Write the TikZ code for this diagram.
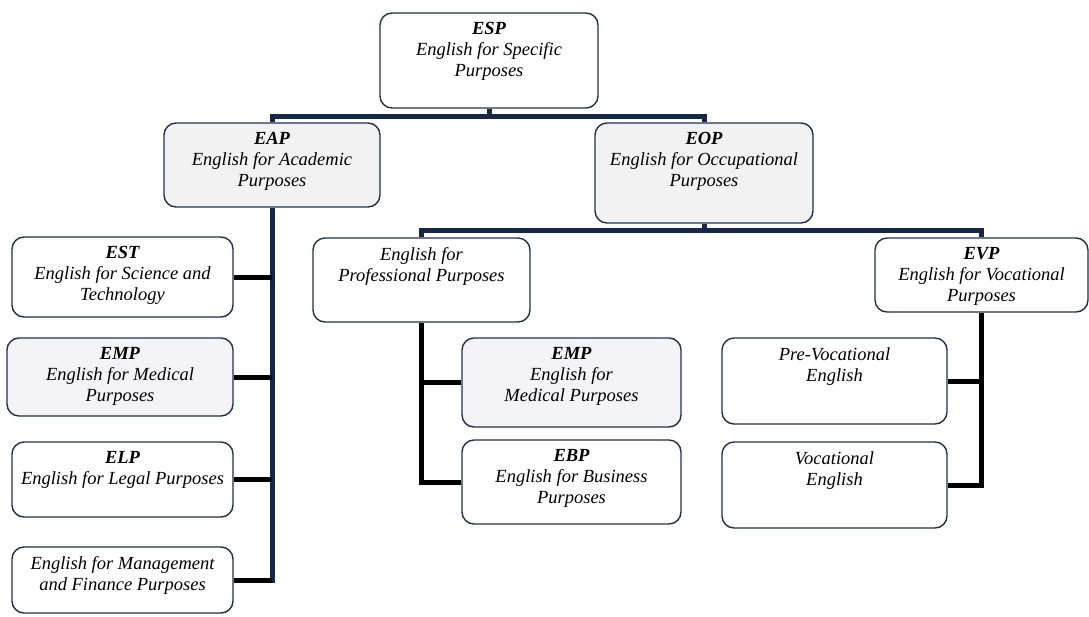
\documentclass[tikz,border=0pt]{standalone}
\usepackage{fontspec}
\setmainfont{Liberation Serif}
\usepackage{xcolor}
\usetikzlibrary{positioning,calc}
\definecolor{navyline}{RGB}{22,40,68}
\definecolor{boxedge}{RGB}{30,50,80}
\definecolor{grayfill}{RGB}{242,242,242}
\definecolor{lilacfill}{RGB}{244,243,247}
\newcommand{\cell}[3]{\parbox[c][\dimexpr#2pt-19pt\relax][t]{\dimexpr#1pt-8pt\relax}{\centering #3}}

\begin{document}
\begin{tikzpicture}[x=1pt, y=-1pt,
    unit/.style={draw=boxedge, line width=1.4pt, rounded corners=12pt, fill=white, inner xsep=4pt, inner ysep=9.5pt, font={\fontsize{18.5}{21}\selectfont\itshape}},
    trunk/.style={draw=navyline, line width=5pt},
    branch/.style={draw=black, line width=5pt}
  ]
    \useasboundingbox (0,0) rectangle (1089,616);
    \node[unit] (esp) at (489,60.5) {\cell{218}{95}{\textbf{ESP}\\English for Specific\\Purposes}};
    \node[unit, fill=grayfill] (eap) at (272,165) {\cell{216}{84}{\textbf{EAP}\\English for Academic\\Purposes}};
    \node[unit, fill=grayfill] (eop) at (704,173) {\cell{218}{100}{\textbf{EOP}\\English for Occupational\\Purposes}};
    % academic side
    \node[unit] (est) at (122.5,277) {\cell{221}{80}{\textbf{EST}\\English for Science and\\Technology}};
    \node[unit, fill=lilacfill] (emp1) at (120,377) {\cell{226}{78}{\textbf{EMP}\\English for Medical\\Purposes}};
    \node[unit] (elp) at (122.5,479.5) {\cell{221}{75}{\textbf{ELP}\\English for Legal Purposes}};
    \node[unit] (emf) at (122.5,580) {\cell{221}{66}{English for Management\\and Finance Purposes}};
    % occupational side
    \node[unit] (epp) at (421.5,280) {\cell{217}{84}{English for\\Professional Purposes}};
    \node[unit, fill=lilacfill] (emp2) at (571.5,382.5) {\cell{219}{89}{\textbf{EMP}\\English for\\Medical Purposes}};
    \node[unit] (ebp) at (571.5,482) {\cell{219}{84}{\textbf{EBP}\\English for Business\\Purposes}};
    \node[unit] (evp) at (981.5,275) {\cell{213}{74}{\textbf{EVP}\\English for Vocational\\Purposes}};
    \node[unit] (pve) at (834.5,381) {\cell{225}{86}{Pre-Vocational\\English}};
    \node[unit] (voc) at (834.5,485) {\cell{225}{86}{Vocational\\English}};

    \draw[trunk] (esp.south) -- ++(0,8) -| (eap.north);
    \draw[trunk] (esp.south) -- ++(0,8) -| (eop.north);
    \draw[trunk] (eap.south) |- (emf.east);
    \foreach \b in {est,emp1,elp,emf}
      \draw[branch] (eap.south |- \b.east) -- (\b.east);
    \draw[trunk] (eop.south) -- ++(0,7) -| (epp.north);
    \draw[trunk] (eop.south) -- ++(0,7) -| (evp.north);
    \draw[branch] (epp.south) |- (ebp.west);
    \draw[branch] (epp.south |- emp2.west) -- (emp2.west);
    \draw[branch] (evp.south) |- (voc.east);
    \draw[branch] (evp.south |- pve.east) -- (pve.east);
  \end{tikzpicture}
\end{document}
